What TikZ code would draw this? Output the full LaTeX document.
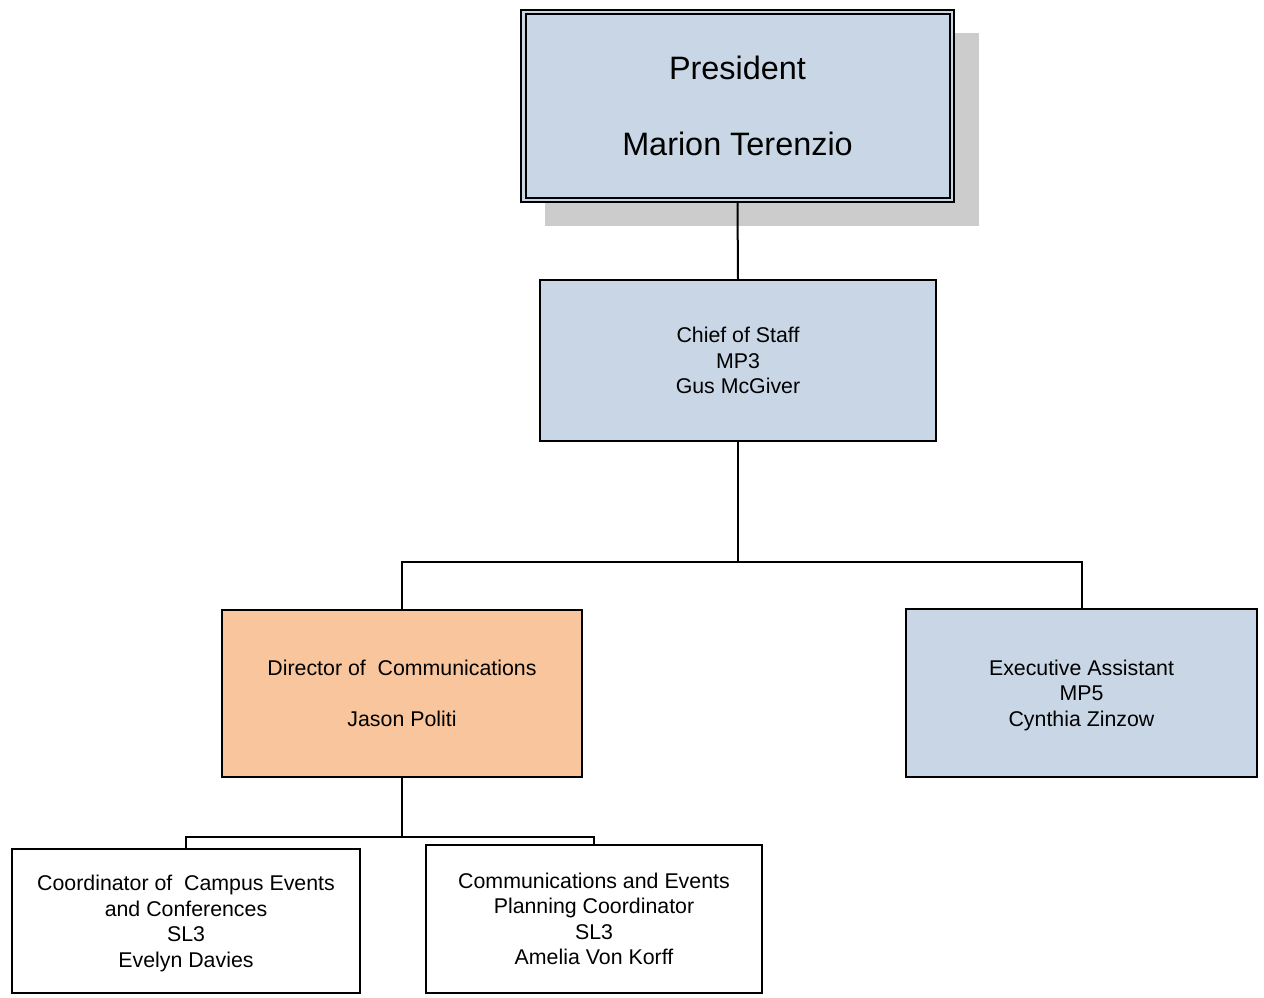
\documentclass[tikz,border=0pt]{standalone}
\usepackage{fontspec}
\setmainfont{Liberation Sans}
\definecolor{boxblue}{RGB}{200,214,229}
\definecolor{boxorange}{RGB}{248,197,156}
\definecolor{shadowgray}{RGB}{204,204,204}
\begin{document}
\begin{tikzpicture}[x=0.75pt,y=-0.75pt,
  box/.style={draw=black,line width=1.5pt,rectangle,align=center,inner sep=0pt,
    font=\fontsize{16pt}{19.1pt}\selectfont},
  conn/.style={draw=black,line width=1.5pt}]
\useasboundingbox (0,0) rectangle (1264,997);
% shadow
\fill[shadowgray] (545,33) rectangle (979,226);
\node[box,fill=boxblue,minimum width=324.75pt,minimum height=144pt,
  font=\fontsize{24.3pt}{57.5pt}\selectfont] (pres) at (737.5,106) {President\\Marion Terenzio};
\draw[line width=1.1pt] ([shift={(6,5)}]pres.north west) rectangle ([shift={(-5,-5)}]pres.south east);
\node[box,fill=boxblue,minimum width=297pt,minimum height=120.75pt] (cos) at (738,360.5) {Chief of Staff\\MP3\\Gus McGiver};
\node[box,fill=boxorange,minimum width=270pt,minimum height=125.25pt] (dir) at (402,693.5) {Director of\ \ Communications\\[19.1pt]Jason Politi};
\node[box,fill=boxblue,minimum width=263.25pt,minimum height=126pt] (ea) at (1081.5,693) {\rule{0pt}{15pt}Executive Assistant\\MP5\\Cynthia Zinzow};
\node[box,minimum width=261pt,minimum height=108pt] (ce) at (186,921) {\rule{0pt}{15pt}Coordinator of\ \ Campus Events\\and Conferences\\SL3\\Evelyn Davies};
\node[box,minimum width=252pt,minimum height=111pt] (cp) at (594,919) {Communications and Events\\Planning Coordinator\\SL3\\Amelia Von Korff};
\coordinate (j1) at (738,562);
\coordinate (j2) at (402,837);
\draw[conn] (pres.south) -- (cos.north);
\draw[conn] (cos.south) -- (j1) -| (dir.north);
\draw[conn] (j1) -| (ea.north);
\draw[conn] (dir.south) -- (j2) -| (ce.north);
\draw[conn] (j2) -| (cp.north);
\end{tikzpicture}
\end{document}
